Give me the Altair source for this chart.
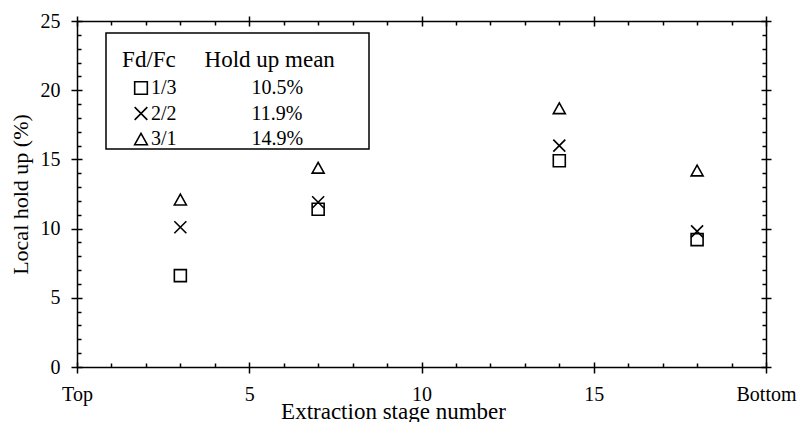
import altair as alt
import pandas as pd

# ---- data ----
stages = [3, 7, 14, 18]
series_names = ["1/3", "2/2", "3/1"]
holdup_13 = [6.6, 11.4, 14.9, 9.2]
holdup_22 = [10.1, 11.9, 16.0, 9.8]
holdup_31 = [12.1, 14.4, 18.7, 14.2]
hold_up_means = ["10.5%", "11.9%", "14.9%"]

x_major = [0, 5, 10, 15, 20]
x_minor = [1, 2, 3, 4, 6, 7, 8, 9, 11, 12, 13, 14, 16, 17, 18, 19]
y_major = [0, 5, 10, 15, 20, 25]
y_minor = [1, 2, 3, 4, 6, 7, 8, 9, 11, 12, 13, 14, 16, 17, 18, 19, 21, 22, 23, 24]

shapes = ["square", "M-1,-1L1,1M-1,1L1,-1", "M0,-0.9L1,0.9L-1,0.9Z"]

rows = []
for name, vals in zip(series_names, [holdup_13, holdup_22, holdup_31]):
    for s, v in zip(stages, vals):
        rows.append({"stage": s, "holdup": v, "ratio": name})
df = pd.DataFrame(rows)

FONT = "Liberation Serif"
NB = "\u00a0"
THIN = "\u2009"
ZW = "\u200b"

label_expr = "datum.label"
for name, mean in reversed(list(zip(series_names, hold_up_means))):
    label_expr = f"datum.label == '{name}' ? '{name}{NB * 15}{mean}' : ({label_expr})"

legend_title = [ZW, ZW + NB * 2 + THIN + "Fd/Fc" + NB * 5 + "Hold up mean" + NB * 5 + THIN + ZW]

x_scale = alt.Scale(domain=[0, 20], nice=False, zero=False)
y_scale = alt.Scale(domain=[0, 25], nice=False)

common = dict(tickColor="black", tickWidth=1.5, domainColor="black", domainWidth=1.5, grid=False)


def guide(orient, values, size, offset=0, domain=False):
    return alt.Axis(orient=orient, values=values, tickSize=size, offset=offset,
                    labels=False, domain=domain, title=None, **common)


points = alt.Chart(df).mark_point(filled=False, color="black", strokeWidth=1.6, size=144, opacity=1).encode(
    x=alt.X("stage:Q", scale=x_scale,
            axis=alt.Axis(orient="bottom", values=x_major, tickSize=6,
                          labelExpr="datum.value == 0 ? 'Top' : (datum.value == 20 ? 'Bottom' : datum.label)",
                          labelFlush=False, labelOverlap=False, labelPadding=11,
                          labelFont=FONT, labelFontSize=20, labelColor="black",
                          title="Extraction stage number", titleFont=FONT, titleFontSize=23,
                          titleFontWeight="normal", titleColor="black", titlePadding=-4,
                          titleX=316, titleAlign="center", **common)),
    y=alt.Y("holdup:Q", scale=y_scale,
            axis=alt.Axis(orient="left", values=y_major, tickSize=6, labelPadding=11,
                          labelFont=FONT, labelFontSize=20, labelColor="black",
                          title="Local hold up (%)", titleFont=FONT, titleFontSize=22,
                          titleFontWeight="normal", titleColor="black", titlePadding=8, **common)),
    shape=alt.Shape("ratio:N", scale=alt.Scale(domain=series_names, range=shapes),
                    legend=alt.Legend(orient="none", legendX=29, legendY=12,
                                      title=legend_title, titleFont=FONT, titleFontSize=23,
                                      titleFontWeight="normal", titleColor="black", titleLineHeight=16,
                                      titlePadding=6, titleLimit=0, labelExpr=label_expr, labelFont=FONT,
                                      labelFontSize=20, labelColor="black", labelLimit=0, symbolSize=160,
                                      symbolStrokeWidth=1.6, symbolStrokeColor="black",
                                      symbolOffset=25, labelOffset=0, rowPadding=5.5,
                                      padding=0, strokeColor="black", fillColor="white")),
)


def guide_layer(xaxis, yaxis):
    return alt.Chart(df).mark_point(opacity=0).encode(
        x=alt.X("stage:Q", scale=x_scale, axis=xaxis),
        y=alt.Y("holdup:Q", scale=y_scale, axis=yaxis),
    )


layers = [
    guide_layer(guide("bottom", x_major, 5, -5), guide("left", y_major, 5, -5)),
    guide_layer(guide("bottom", x_minor, 4, -4), guide("left", y_minor, 4, -4)),
    guide_layer(guide("top", x_major, 5, 0, True), guide("right", y_major, 5, 0, True)),
    guide_layer(guide("top", x_major, 5, -5), guide("right", y_major, 5, -5)),
    guide_layer(guide("top", x_minor, 4, -4), guide("right", y_minor, 4, -4)),
    points,
]

chart = alt.layer(*layers).resolve_axis(x="independent", y="independent").properties(
    width=689, height=346,
    autosize=alt.AutoSizeParams(type="none"),
    padding={"left": 77, "top": 21, "right": 36, "bottom": 55},
    background="white",
).configure_view(stroke=None).configure_legend(strokeWidth=1.5, cornerRadius=0)

chart.save("out.html", embed_options={"renderer": "svg", "actions": False})
